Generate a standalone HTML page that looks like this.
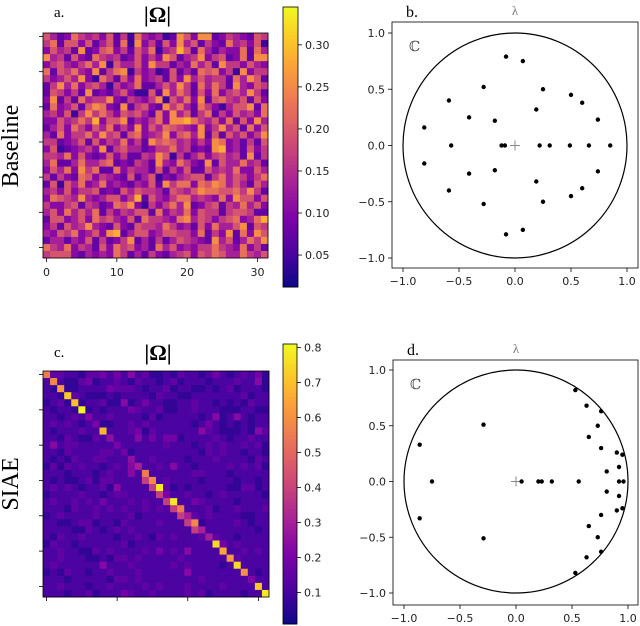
<!DOCTYPE html>
<html><head><meta charset="utf-8">
<style>
html,body{margin:0;padding:0;background:#fff;}
svg{display:block;}
.serif{font-family:"Liberation Serif","DejaVu Serif",serif;}
.sans{font-family:"DejaVu Sans","Liberation Sans",sans-serif;}
</style></head>
<body>
<svg id="fig" width="640" height="626" viewBox="0 0 640 626" xmlns="http://www.w3.org/2000/svg">
<g id="panelA"></g>
<g id="panelB"></g>
<g id="panelC"></g>
<g id="panelD"></g>
</svg>
<script>
// ---- data ----
const baselineRows = [
"64237545362517434128638823543265",
"57266362462718352638462532745361",
"36452823673526471459627424337274",
"84526327545236353862458356237288",
"35643574816446385524374628553643",
"72657438257815341262427673518355",
"53464831752637345263846455274862",
"25847356415347224648527475284365",
"26535282324631162847526373564852",
"38252745583254358164738267546263",
"27346268732825632857427531466827",
"45361585753656427384625725364537",
"33645759366824357388975463726384",
"24637536473538364765438358462736",
"42735574856267345836748262646358",
"55234626354735286764535387342526",
"36123453825644235574523289342635",
"55473632363522548615246356452825",
"47224744672325428437532826447452",
"36473857227354426253622645473364",
"52532763543262461324566257465357",
"26164734734324362857737687464264",
"45363556232646554265468776675852",
"37654843466359264357745437386636",
"53356254237683153574823562547463",
"46374647253546627354736552566522",
"26634637564362755437846535673479",
"35264584326326554753426374468265",
"43657346389246634665537253827386",
"24424362523582425246543284624758",
"75473542637563427463435575437352",
"56663243437524253245636576447546"];
const siaeRows = [
"93322133424252311213221242123241",
"29211341223213221231222122232251",
"21911222243332122312211212312221",
"22193211121222213221122222223122",
"12319122311512422112232212121322",
"21221912122243223112232221112211",
"22123292232222131222221251252122",
"23232129112232322222212421212122",
"21222322922234132222225321112153",
"22132113292225242441222232122322",
"25233222229222222322212323223231",
"22132222332912222222221323221221",
"21213223322292232222122232222132",
"13132322123259223252212222323231",
"22212221232252922222233222122222",
"21211231332222922322221222212212",
"23232122315222292312122222113312",
"12222322123322229322322123222221",
"23223232422232322932243222212222",
"22213223232322323292222312232223",
"12322223222231222229232322221122",
"22112331221322223222931222232122",
"22221132123232222222295222222212",
"21322322221223213232223932212222",
"13221222222312222222222294232222",
"22322113232222324232522229223232",
"22322211213323222223222222932222",
"23222222522232222232322221292222",
"12132212232223222222522222229212",
"22212222213323222222223222222922",
"22322212232222323222322223222292",
"22212231222432232222323122221229"];
const siaeDiag = [0.55,0.58,0.62,0.72,0.70,0.80,0.22,0.20,0.68,0.25,0.20,0.18,0.25,0.30,0.55,0.58,0.78,0.20,0.78,0.55,0.30,0.58,0.30,0.30,0.75,0.65,0.62,0.75,0.60,0.22,0.72,0.78];
const bReal = [-0.08,0.07,-0.28,0.25,-0.59,0.50,0.60,0.19,-0.41,-0.18,0.74,-0.81];
const bImag = [0.79,0.75,0.52,0.50,0.40,0.45,0.38,0.32,0.25,0.22,0.23,0.16];
const bRealAxis = [-0.57,-0.12,-0.09,0.22,0.31,0.49,0.66,0.85];
const dReal = [0.53,0.63,0.76,0.73,0.65,0.76,0.90,0.95,0.92,0.81,-0.29,-0.86];
const dImag = [0.82,0.68,0.63,0.50,0.40,0.30,0.26,0.24,0.13,0.09,0.51,0.33];
const dRealAxis = [-0.75,0.05,0.20,0.23,0.32,0.56,0.92,0.96];
const cbTicksA = [0.05,0.10,0.15,0.20,0.25,0.30];
const cbTicksC = [0.1,0.2,0.3,0.4,0.5,0.6,0.7,0.8];
const axisTicks = [-1.0,-0.5,0.0,0.5,1.0];

const NS="http://www.w3.org/2000/svg";
function mk(tag,attrs,parent,text){const e=document.createElementNS(NS,tag);for(const k in attrs)e.setAttribute(k,attrs[k]);if(text!==undefined)e.textContent=text;parent.appendChild(e);return e;}
const plasma=[[13,8,135],[75,3,161],[125,3,168],[168,34,150],[203,70,121],[229,107,93],[248,148,65],[253,195,40],[240,249,33]];
function cmap(t){t=Math.max(0,Math.min(1,t));const s=t*(plasma.length-1);const i=Math.min(plasma.length-2,Math.floor(s));const f=s-i;const a=plasma[i],b=plasma[i+1];return `rgb(${Math.round(a[0]+(b[0]-a[0])*f)},${Math.round(a[1]+(b[1]-a[1])*f)},${Math.round(a[2]+(b[2]-a[2])*f)})`;}

function heatmap(g,x0,y0,size,valFn,vmin,vmax,cb,cbTicks,xLabels,label,rowLabel,lx,ly,titleY,rowY,dec){
  const n=32,cs=size/n;
  for(let r=0;r<n;r++)for(let c=0;c<n;c++){
    const v=valFn(r,c);
    const cell=mk('rect',{x:x0+c*cs,y:y0+r*cs,width:cs+0.4,height:cs+0.4,fill:cmap((v-vmin)/(vmax-vmin))},g);
    
    
  }
  mk('rect',{x:x0,y:y0,width:size,height:size,fill:'none',stroke:'#000','stroke-width':0.8},g);
  for(let k=0;k<=30;k+=5){const y=y0+(k+0.5)*cs;mk('line',{x1:x0-4,y1:y,x2:x0,y2:y,stroke:'#000','stroke-width':0.8},g);}
  [0,10,20,30].forEach(k=>{const x=x0+(k+0.5)*cs;mk('line',{x1:x,y1:y0+size,x2:x,y2:y0+size+4,stroke:'#000','stroke-width':0.8},g);
    if(xLabels){const t=mk('text',{x:x,y:y0+size+18,'text-anchor':'middle','font-size':11,class:'sans',fill:'#222'},g,String(k));}});
  const pl=mk('text',{x:lx,y:ly,'font-size':15,class:'serif'},g,label);
  const tt=mk('text',{x:x0+size/2+2,y:titleY,'text-anchor':'middle','font-size':22,'font-weight':'bold',class:'serif'},g,'|Ω|');
  const rl=mk('text',{x:0,y:0,'text-anchor':'middle','font-size':24,class:'serif',transform:`translate(18,${rowY}) rotate(-90)`},g,rowLabel);
  const [cx,cy0,cw,ch]=cb;const steps=80;
  for(let i=0;i<steps;i++){mk('rect',{x:cx,y:cy0+ch-(i+1)*ch/steps,width:cw,height:ch/steps+0.5,fill:cmap((i+0.5)/steps)},g);}
  const cbr=mk('rect',{x:cx,y:cy0,width:cw,height:ch,fill:'none',stroke:'#000','stroke-width':0.8},g);
  
  cbTicks.forEach(v=>{const y=cy0+ch-(v-vmin)/(vmax-vmin)*ch;mk('line',{x1:cx+cw,y1:y,x2:cx+cw+4,y2:y,stroke:'#000','stroke-width':0.8},g);
    const t=mk('text',{x:cx+cw+7,y:y+4,'font-size':11,class:'sans',fill:'#222'},g,v.toFixed(dec));});
}

heatmap(document.getElementById('panelA'),43,33,225,(r,c)=>0.015+(+baselineRows[r][c])*0.03,0.012,0.345,[283,7,15,280],cbTicksA,true,'a.','Baseline',54,17,22,146,2);
heatmap(document.getElementById('panelC'),43,371,226,(r,c)=>r===c?siaeDiag[r]:0.03+(+siaeRows[r][c])*0.04,0.01,0.81,[283,344,14,280],cbTicksC,false,'c.','SIAE',54,357,360,484,1);

function eig(g,box,x0px,x1px,y1px,ym1px,re,im,reAxis,label,lx,ly){
  const sx=v=>x0px+(v+1)/2*(x1px-x0px);
  const sy=v=>ym1px-(v+1)/2*(ym1px-y1px);
  mk('rect',{x:box[0],y:box[1],width:box[2],height:box[3],fill:'none',stroke:'#000','stroke-width':0.8},g);
  const circ=mk('ellipse',{cx:sx(0),cy:sy(0),rx:(x1px-x0px)/2,ry:(ym1px-y1px)/2,fill:'none',stroke:'#000','stroke-width':1.2},g);
  
  mk('path',{d:`M${sx(0)-5},${sy(0)}h10M${sx(0)},${sy(0)-5}v10`,stroke:'#888','stroke-width':1},g);
  axisTicks.forEach(v=>{
    mk('line',{x1:sx(v),y1:box[1]+box[3],x2:sx(v),y2:box[1]+box[3]+4,stroke:'#000','stroke-width':0.8},g);
    const t=mk('text',{x:sx(v),y:box[1]+box[3]+17,'text-anchor':'middle','font-size':11,class:'sans',fill:'#222'},g,(v<0?'−':'')+Math.abs(v).toFixed(1));
    mk('line',{x1:box[0]-4,y1:sy(v),x2:box[0],y2:sy(v),stroke:'#000','stroke-width':0.8},g);
    const u=mk('text',{x:box[0]-7,y:sy(v)+4,'text-anchor':'end','font-size':11,class:'sans',fill:'#222'},g,(v<0?'−':'')+Math.abs(v).toFixed(1));
  });
  const dot=(a,b)=>{const p=mk('circle',{cx:sx(a),cy:sy(b),r:2.2,fill:'#000'},g);};
  re.forEach((a,i)=>{dot(a,im[i]);dot(a,-im[i]);});
  reAxis.forEach(a=>dot(a,0));
  const c=mk('text',{x:box[0]+17,y:box[1]+29,'font-size':14,class:'serif',fill:'#555'},g,'ℂ');
  const t=mk('text',{x:sx(0),y:box[1]-7,'text-anchor':'middle','font-size':13,class:'serif',fill:'#777'},g,'λ');
  const pl=mk('text',{x:lx,y:ly,'font-size':16,class:'serif'},g,label);
}
eig(document.getElementById('panelB'),[392,22,246,246],403,627,33,258,bReal,bImag,bRealAxis,'b.',406,17);
eig(document.getElementById('panelD'),[393,360,245,245],404,628,370,593,dReal,dImag,dRealAxis,'d.',407,355);
</script>
</body></html>
